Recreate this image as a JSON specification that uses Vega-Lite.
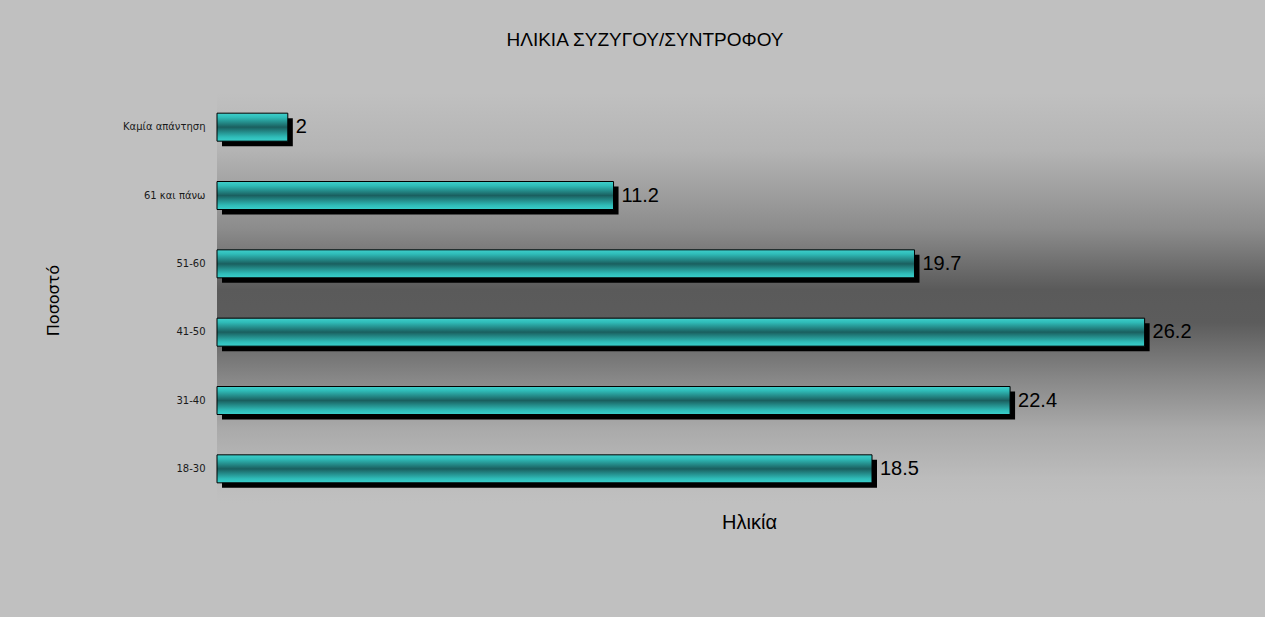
{
  "$schema": "https://vega.github.io/schema/vega-lite/v6.json",
  "autosize": {"type": "none"},
  "padding": {"left": 217, "top": 93, "right": 0, "bottom": 114},
  "width": 1048,
  "height": 410,
  "background": "#c0c0c0",
  "config": {
    "font": "Liberation Sans",
    "view": {
      "stroke": null,
      "fill": {
        "gradient": "linear", "x1": 0, "y1": 0, "x2": 0, "y2": 1,
        "stops": [
          {"offset": 0, "color": "#c0c0c0"},
          {"offset": 0.14, "color": "#b4b4b4"},
          {"offset": 0.33, "color": "#8c8c8c"},
          {"offset": 0.48, "color": "#5a5a5a"},
          {"offset": 0.56, "color": "#5c5c5c"},
          {"offset": 0.7, "color": "#888888"},
          {"offset": 0.82, "color": "#aaaaaa"},
          {"offset": 0.94, "color": "#bcbcbc"},
          {"offset": 1, "color": "#c0c0c0"}
        ]
      }
    }
  },
  "title": {
    "text": "ΗΛΙΚΙΑ ΣΥΖΥΓΟΥ/ΣΥΝΤΡΟΦΟΥ",
    "fontSize": 19,
    "fontWeight": "normal",
    "color": "#000000",
    "anchor": "middle",
    "offset": 43,
    "dx": -96
  },
  "data": {
    "values": [
      {"age": "Καμία απάντηση", "pct": 2},
      {"age": "61 και πάνω", "pct": 11.2},
      {"age": "51-60", "pct": 19.7},
      {"age": "41-50", "pct": 26.2},
      {"age": "31-40", "pct": 22.4},
      {"age": "18-30", "pct": 18.5}
    ]
  },
  "encoding": {
    "y": {
      "field": "age", "type": "nominal", "sort": null,
      "scale": {"paddingInner": 0, "paddingOuter": 0},
      "axis": {
        "title": "Ποσοστό",
        "titleFont": "DejaVu Sans",
        "titleFontSize": 16, "titleFontWeight": "normal", "titleColor": "#000000",
        "titleAngle": -90, "titleAlign": "center", "titleBaseline": "middle",
        "titleX": -164, "titleY": 207,
        "labelFont": "DejaVu Sans",
        "labelFontSize": 10, "labelColor": "#1a1a1a", "labelPadding": 12,
        "ticks": false, "domain": false, "grid": false
      }
    },
    "x": {
      "field": "pct", "type": "quantitative",
      "scale": {"domain": [0, 29.6], "nice": false},
      "axis": {
        "title": "Ηλικία",
        "titleFontSize": 20, "titleFontWeight": "normal", "titleColor": "#000000",
        "titleAlign": "center", "titleBaseline": "middle",
        "titleX": 532, "titleY": 19,
        "labels": false, "ticks": false, "domain": false, "grid": false
      }
    }
  },
  "layer": [
    {
      "mark": {"type": "bar", "size": 28, "color": "#000000", "xOffset": 5, "x2Offset": 5, "yOffset": 5, "y2Offset": 5}
    },
    {
      "mark": {
        "type": "bar", "size": 28, "stroke": "#000000", "strokeWidth": 1,
        "fill": {
          "gradient": "linear", "x1": 0, "y1": 0, "x2": 0, "y2": 1,
          "stops": [
            {"offset": 0, "color": "#3fd0cc"},
            {"offset": 0.15, "color": "#2fbcb8"},
            {"offset": 0.5, "color": "#1a5f5f"},
            {"offset": 0.85, "color": "#2fbcb8"},
            {"offset": 1, "color": "#3ad0cc"}
          ]
        }
      }
    },
    {
      "mark": {"type": "text", "align": "left", "baseline": "middle", "dx": 8, "fontSize": 20, "color": "#000000"},
      "encoding": {"text": {"field": "pct", "type": "quantitative"}}
    }
  ]
}
